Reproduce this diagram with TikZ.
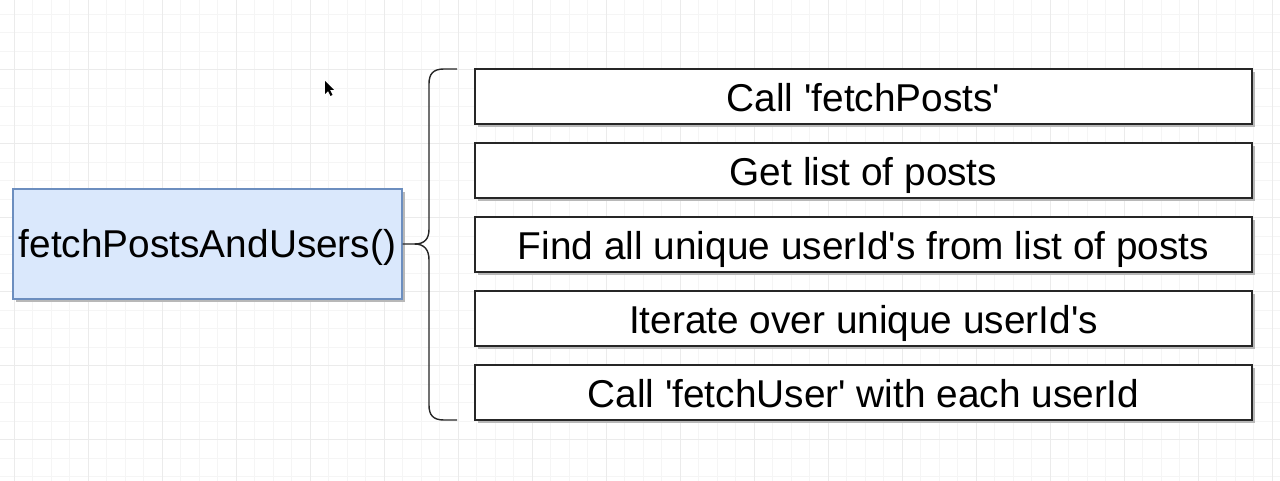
\documentclass[tikz,border=0pt]{standalone}
\usepackage{fontspec}
\setmainfont{Liberation Sans}
\usetikzlibrary{shadows}
\definecolor{funcfill}{HTML}{DAE8FC}
\definecolor{funcline}{HTML}{6C8EBF}
\definecolor{gridminor}{HTML}{F5F5F5}
\definecolor{gridmajor}{HTML}{EBEBEB}
\newcommand{\sq}{\textquotesingle}
\begin{document}
\begin{tikzpicture}[x=1pt,y=-1pt,
  boxshadow/.style={drop shadow={shadow xshift=3pt,shadow yshift=-3pt,fill=black!28,opacity=1}},
  labelfont/.style={font=\fontsize{38.8}{40}\selectfont},
  funcbox/.style={draw=funcline,fill=funcfill,line width=1.2pt,minimum width=389pt,
    minimum height=110pt,inner sep=0pt,text height=27.4pt,text depth=0pt,boxshadow,labelfont},
  stepbox/.style={draw=black!85,fill=white,line width=1.6pt,minimum width=777pt,
    minimum height=55pt,inner sep=0pt,text height=29.4pt,text depth=0pt,boxshadow,labelfont},
  bracepath/.style={draw=black!85,line width=1.4pt},
  gridfine/.style={draw=gridminor,line width=0.8pt},
  gridbold/.style={draw=gridmajor,line width=0.9pt}]

\useasboundingbox (0,0) rectangle (1280,481);
\fill[white] (0,0) rectangle (1280,481);

% background grid
\foreach \i in {0,...,68}{\draw[gridfine] (14+18.5*\i,0) -- (14+18.5*\i,481);}
\foreach \j in {0,...,25}{\draw[gridfine] (0,14+18.5*\j) -- (1280,14+18.5*\j);}
\foreach \i in {0,4,...,68}{\draw[gridbold] (14+18.5*\i,0) -- (14+18.5*\i,481);}
\foreach \j in {3,7,...,23}{\draw[gridbold] (0,14+18.5*\j) -- (1280,14+18.5*\j);}

% mouse pointer
\fill[black] (325,81) -- (325,94) -- (328,91) -- (330.5,96) -- (332.5,95) -- (330,90) -- (334,90) -- cycle;

% function box
\node[funcbox] (func) at (207.5,244) {fetchPostsAndUsers()};

% steps
\node[stepbox] (s1) at (863.5,96.5)  {Call \sq fetchPosts\sq};
\node[stepbox] (s2) at (863.5,170.5) {Get list of posts};
\node[stepbox] (s3) at (863.5,244.5) {Find all unique userId\sq s from list of posts};
\node[stepbox] (s4) at (863.5,318.5) {Iterate over unique userId\sq s};
\node[stepbox] (s5) at (863.5,392.5) {Call \sq fetchUser\sq{} with each userId};

% curly brace grouping the steps
\draw[bracepath] (func.east) -- ++(12,0) coordinate (tip)
  .. controls ++(10,0) and (429,239) .. (429,229) -- (429,84)
  .. controls (429,74) and (433,69) .. (444,69) -- (457,69);
\draw[bracepath] (tip)
  .. controls ++(10,0) and (429,250) .. (429,260) -- (429,405)
  .. controls (429,415) and (433,420) .. (444,420) -- (457,420);
\end{tikzpicture}
\end{document}
